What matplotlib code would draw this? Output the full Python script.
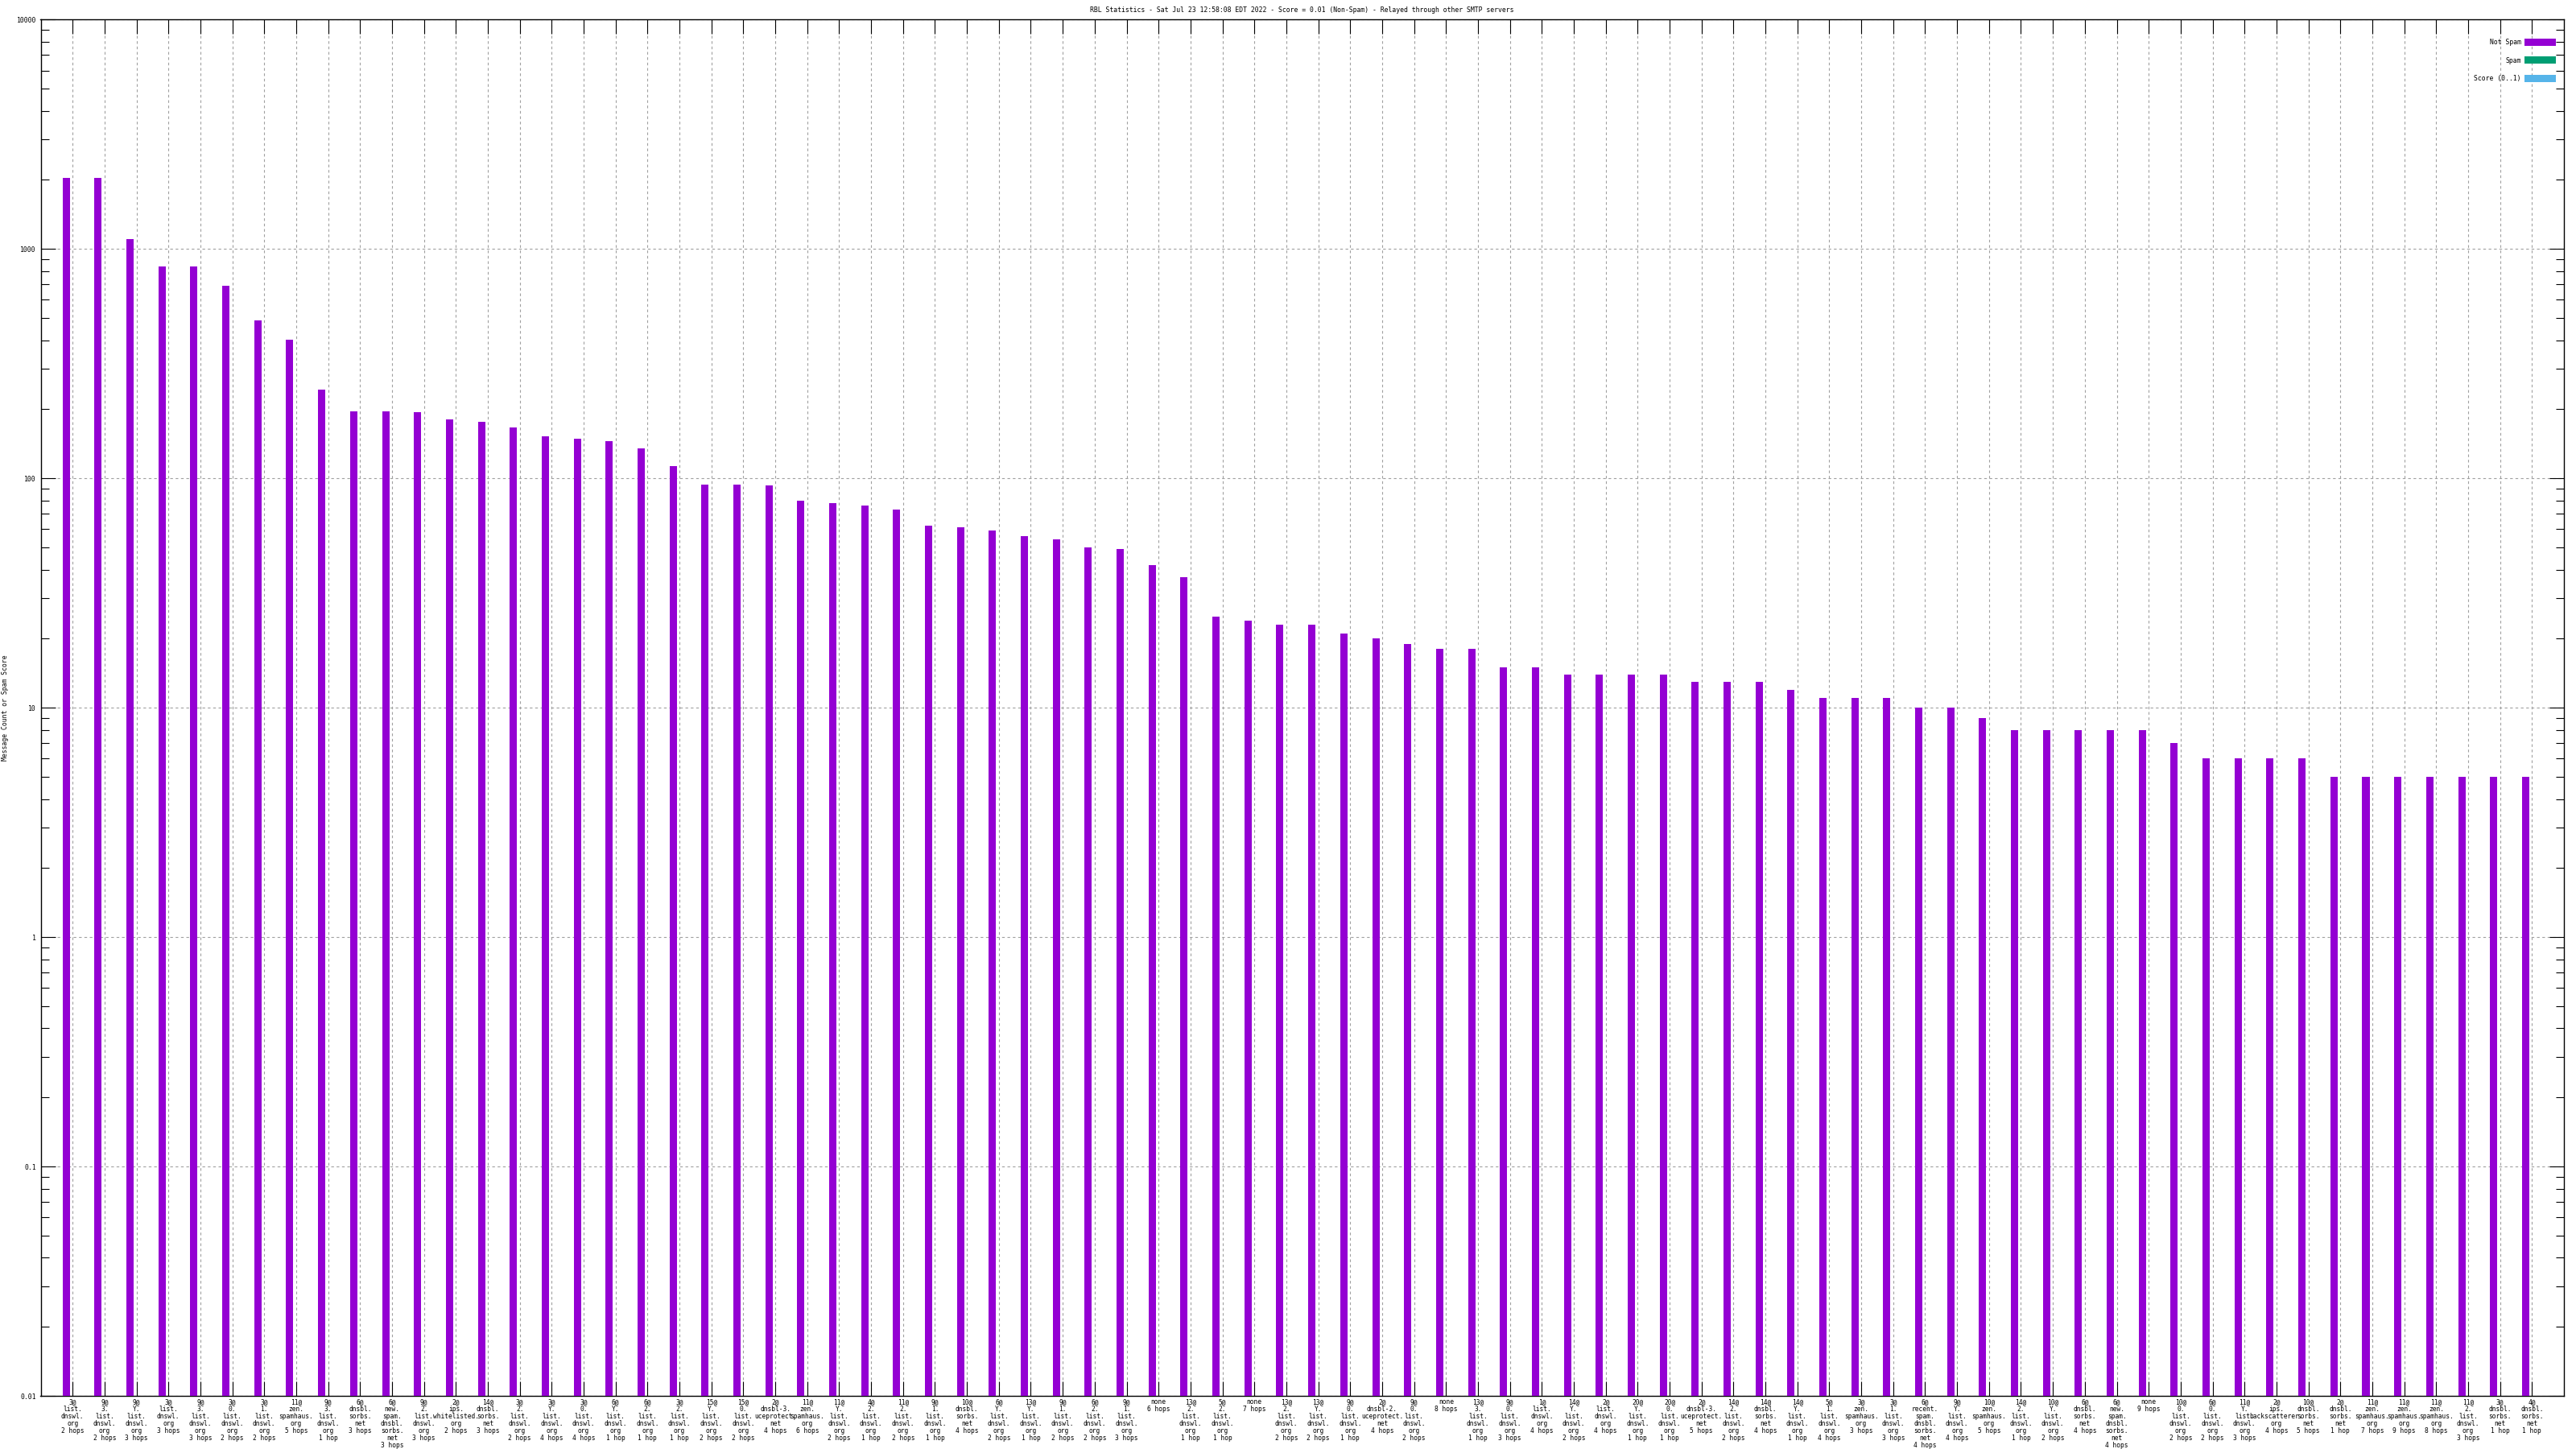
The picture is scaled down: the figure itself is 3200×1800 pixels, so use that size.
import matplotlib
matplotlib.use("Agg")
import matplotlib.pyplot as plt
from matplotlib.patches import Patch
from matplotlib.ticker import LogLocator, FixedLocator, FixedFormatter, NullFormatter
import numpy as np

title = "RBL Statistics - Sat Jul 23 12:58:08 EDT 2022 - Score = 0.01 (Non-Spam) - Relayed through other SMTP servers"
ylabel = "Message Count or Spam Score"
series_names = ["Not Spam", "Spam", "Score (0..1)"]
series_colors = ["#9400D3", "#009E73", "#56B4E9"]

categories = [
    "3@\nlist.\ndnswl.\norg\n2 hops",
    "9@\n3.\nlist.\ndnswl.\norg\n2 hops",
    "9@\nY.\nlist.\ndnswl.\norg\n3 hops",
    "3@\nlist.\ndnswl.\norg\n3 hops",
    "9@\n3.\nlist.\ndnswl.\norg\n3 hops",
    "3@\n0.\nlist.\ndnswl.\norg\n2 hops",
    "3@\n1.\nlist.\ndnswl.\norg\n2 hops",
    "11@\nzen.\nspamhaus.\norg\n5 hops",
    "9@\n3.\nlist.\ndnswl.\norg\n1 hop",
    "6@\ndnsbl.\nsorbs.\nnet\n3 hops",
    "6@\nnew.\nspam.\ndnsbl.\nsorbs.\nnet\n3 hops",
    "9@\n2.\nlist.\ndnswl.\norg\n3 hops",
    "2@\nips.\nwhitelisted.\norg\n2 hops",
    "14@\ndnsbl.\nsorbs.\nnet\n3 hops",
    "3@\n2.\nlist.\ndnswl.\norg\n2 hops",
    "3@\nY.\nlist.\ndnswl.\norg\n4 hops",
    "3@\n0.\nlist.\ndnswl.\norg\n4 hops",
    "6@\nY.\nlist.\ndnswl.\norg\n1 hop",
    "6@\n2.\nlist.\ndnswl.\norg\n1 hop",
    "3@\n2.\nlist.\ndnswl.\norg\n1 hop",
    "15@\nY.\nlist.\ndnswl.\norg\n2 hops",
    "15@\n0.\nlist.\ndnswl.\norg\n2 hops",
    "2@\ndnsbl-3.\nuceprotect.\nnet\n4 hops",
    "11@\nzen.\nspamhaus.\norg\n6 hops",
    "11@\nY.\nlist.\ndnswl.\norg\n2 hops",
    "4@\n2.\nlist.\ndnswl.\norg\n1 hop",
    "11@\n2.\nlist.\ndnswl.\norg\n2 hops",
    "9@\n1.\nlist.\ndnswl.\norg\n1 hop",
    "10@\ndnsbl.\nsorbs.\nnet\n4 hops",
    "6@\nY.\nlist.\ndnswl.\norg\n2 hops",
    "13@\nY.\nlist.\ndnswl.\norg\n1 hop",
    "9@\n1.\nlist.\ndnswl.\norg\n2 hops",
    "6@\n2.\nlist.\ndnswl.\norg\n2 hops",
    "9@\n1.\nlist.\ndnswl.\norg\n3 hops",
    "none\n6 hops",
    "13@\n2.\nlist.\ndnswl.\norg\n1 hop",
    "5@\n2.\nlist.\ndnswl.\norg\n1 hop",
    "none\n7 hops",
    "13@\n2.\nlist.\ndnswl.\norg\n2 hops",
    "13@\nY.\nlist.\ndnswl.\norg\n2 hops",
    "9@\n0.\nlist.\ndnswl.\norg\n1 hop",
    "2@\ndnsbl-2.\nuceprotect.\nnet\n4 hops",
    "9@\n0.\nlist.\ndnswl.\norg\n2 hops",
    "none\n8 hops",
    "13@\n3.\nlist.\ndnswl.\norg\n1 hop",
    "9@\n0.\nlist.\ndnswl.\norg\n3 hops",
    "1@\nlist.\ndnswl.\norg\n4 hops",
    "14@\nY.\nlist.\ndnswl.\norg\n2 hops",
    "2@\nlist.\ndnswl.\norg\n4 hops",
    "20@\nY.\nlist.\ndnswl.\norg\n1 hop",
    "20@\n0.\nlist.\ndnswl.\norg\n1 hop",
    "2@\ndnsbl-3.\nuceprotect.\nnet\n5 hops",
    "14@\n2.\nlist.\ndnswl.\norg\n2 hops",
    "14@\ndnsbl.\nsorbs.\nnet\n4 hops",
    "14@\nY.\nlist.\ndnswl.\norg\n1 hop",
    "5@\n1.\nlist.\ndnswl.\norg\n4 hops",
    "3@\nzen.\nspamhaus.\norg\n3 hops",
    "3@\n1.\nlist.\ndnswl.\norg\n3 hops",
    "6@\nrecent.\nspam.\ndnsbl.\nsorbs.\nnet\n4 hops",
    "9@\nY.\nlist.\ndnswl.\norg\n4 hops",
    "10@\nzen.\nspamhaus.\norg\n5 hops",
    "14@\n2.\nlist.\ndnswl.\norg\n1 hop",
    "10@\nY.\nlist.\ndnswl.\norg\n2 hops",
    "6@\ndnsbl.\nsorbs.\nnet\n4 hops",
    "6@\nnew.\nspam.\ndnsbl.\nsorbs.\nnet\n4 hops",
    "none\n9 hops",
    "10@\n0.\nlist.\ndnswl.\norg\n2 hops",
    "6@\n0.\nlist.\ndnswl.\norg\n2 hops",
    "11@\nY.\nlist.\ndnswl.\norg\n3 hops",
    "2@\nips.\nbackscatterer.\norg\n4 hops",
    "10@\ndnsbl.\nsorbs.\nnet\n5 hops",
    "2@\ndnsbl.\nsorbs.\nnet\n1 hop",
    "11@\nzen.\nspamhaus.\norg\n7 hops",
    "11@\nzen.\nspamhaus.\norg\n9 hops",
    "11@\nzen.\nspamhaus.\norg\n8 hops",
    "11@\n2.\nlist.\ndnswl.\norg\n3 hops",
    "3@\ndnsbl.\nsorbs.\nnet\n1 hop",
    "4@\ndnsbl.\nsorbs.\nnet\n1 hop",
]

not_spam = [
    2034, 2034, 1102, 837, 837, 690, 488, 402, 244, 196,
    196, 194, 181, 176, 166, 152, 149, 145, 135, 113,
    94, 94, 93, 80, 78, 76, 73, 62, 61, 59,
    56, 54, 50, 49, 42, 37, 25, 24, 23, 23,
    21, 20, 19, 18, 18, 15, 15, 14, 14, 14,
    14, 13, 13, 13, 12, 11, 11, 11, 10, 10,
    9, 8, 8, 8, 8, 8, 7, 6, 6, 6,
    6, 5, 5, 5, 5, 5, 5, 5,
]

ytick_values = [0.01, 0.1, 1, 10, 100, 1000, 10000]
ytick_labels = ["0.01", "0.1", "1", "10", "100", "1000", "10000"]

FONT = "DejaVu Sans Mono"
FS = 5.9
GRID = "#a0a0a0"

fig = plt.figure(figsize=(32, 18), dpi=100)
W, H = 3200, 1800
left, right, top, bottom = 50.5, 3185, 24.3, 1734
ax = fig.add_axes([left / W, 1 - bottom / H, (right - left) / W, (bottom - top) / H])

x = np.arange(len(categories))
ax.bar(x - 0.2, not_spam, width=0.227, color=series_colors[0], zorder=3, linewidth=0)

ax.set_yscale("log")
ax.set_ylim(0.01, 10000)
ax.set_xlim(-1, len(categories))

ax.yaxis.set_major_locator(FixedLocator(ytick_values))
ax.yaxis.set_major_formatter(FixedFormatter(ytick_labels))
ax.yaxis.set_minor_locator(LogLocator(base=10, subs=np.arange(2, 10), numticks=20))
ax.yaxis.set_minor_formatter(NullFormatter())

ax.set_xticks(x)
ax.set_xticklabels(categories, fontfamily=FONT, fontsize=5.7, linespacing=1.0)
for lab in ax.get_yticklabels():
    lab.set_fontfamily(FONT)
    lab.set_fontsize(FS)

ax.tick_params(axis="both", which="both", direction="in", top=True, right=True, color="black")
ax.tick_params(axis="both", which="major", length=13, width=0.8)
ax.tick_params(axis="y", which="minor", length=7, width=0.8)
ax.tick_params(axis="x", which="major", pad=2.2)
ax.tick_params(axis="y", which="major", pad=4)

ax.grid(True, which="major", axis="both", color=GRID, linestyle=(0, (3, 3)), linewidth=0.8, zorder=0)
ax.set_axisbelow(True)
for s in ax.spines.values():
    s.set_linewidth(1.0)
    s.set_color("black")

fig.text(7 / W, 1 - 879 / H, ylabel, rotation=90, ha="center", va="center",
         fontfamily=FONT, fontsize=FS)
fig.text((left + right) / 2 / W, 1 - 12.7 / H, title, ha="center", va="center",
         fontfamily=FONT, fontsize=5.9)

handles = [Patch(facecolor=c, edgecolor="none") for c in series_colors]
leg = ax.legend(handles, series_names, loc="upper right",
                bbox_to_anchor=((3175 - left) / (right - left), 1 - (48 - top) / (bottom - top)),
                frameon=False, markerfirst=False, handlelength=4.75, handleheight=1.3,
                handletextpad=0.5, labelspacing=1.6, borderpad=0, borderaxespad=0,
                prop={"family": FONT, "size": FS})

fig.savefig("out.png", dpi=100)
